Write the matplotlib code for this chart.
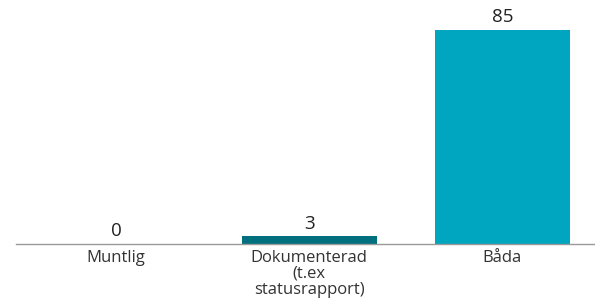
import matplotlib.pyplot as plt

categories = ["Muntlig", "Dokumenterad\n(t.ex\nstatusrapport)", "Båda"]
values = [0, 3, 85]
colors = ["#00707f", "#00707f", "#00a6c0"]

plt.rcParams['font.family'] = ['Open Sans', 'DejaVu Sans']

fig = plt.figure(figsize=(5.95, 3.01), dpi=100)
ax = fig.add_axes([16 / 595, 57 / 301, 579 / 595, 244 / 301])

x = range(len(categories))
bars = ax.bar(x, values, width=0.7, color=colors)

for xi, v in zip(x, values):
    ax.text(xi, v + 1.4, str(v), ha="center", va="bottom", fontsize=13.5, color="#222222")

ax.set_xlim(-0.517, 2.479)
ax.set_ylim(0, 96.9)
ax.set_xticks(list(x))
ax.set_xticklabels(categories, fontsize=12, color="#333333", linespacing=1.0)
ax.tick_params(axis="x", length=0, pad=4)
ax.set_yticks([])
for s in ["top", "right", "left"]:
    ax.spines[s].set_visible(False)
ax.spines["bottom"].set_color("#999999")
ax.spines["bottom"].set_linewidth(1)

fig.savefig("out.png", dpi=100)
